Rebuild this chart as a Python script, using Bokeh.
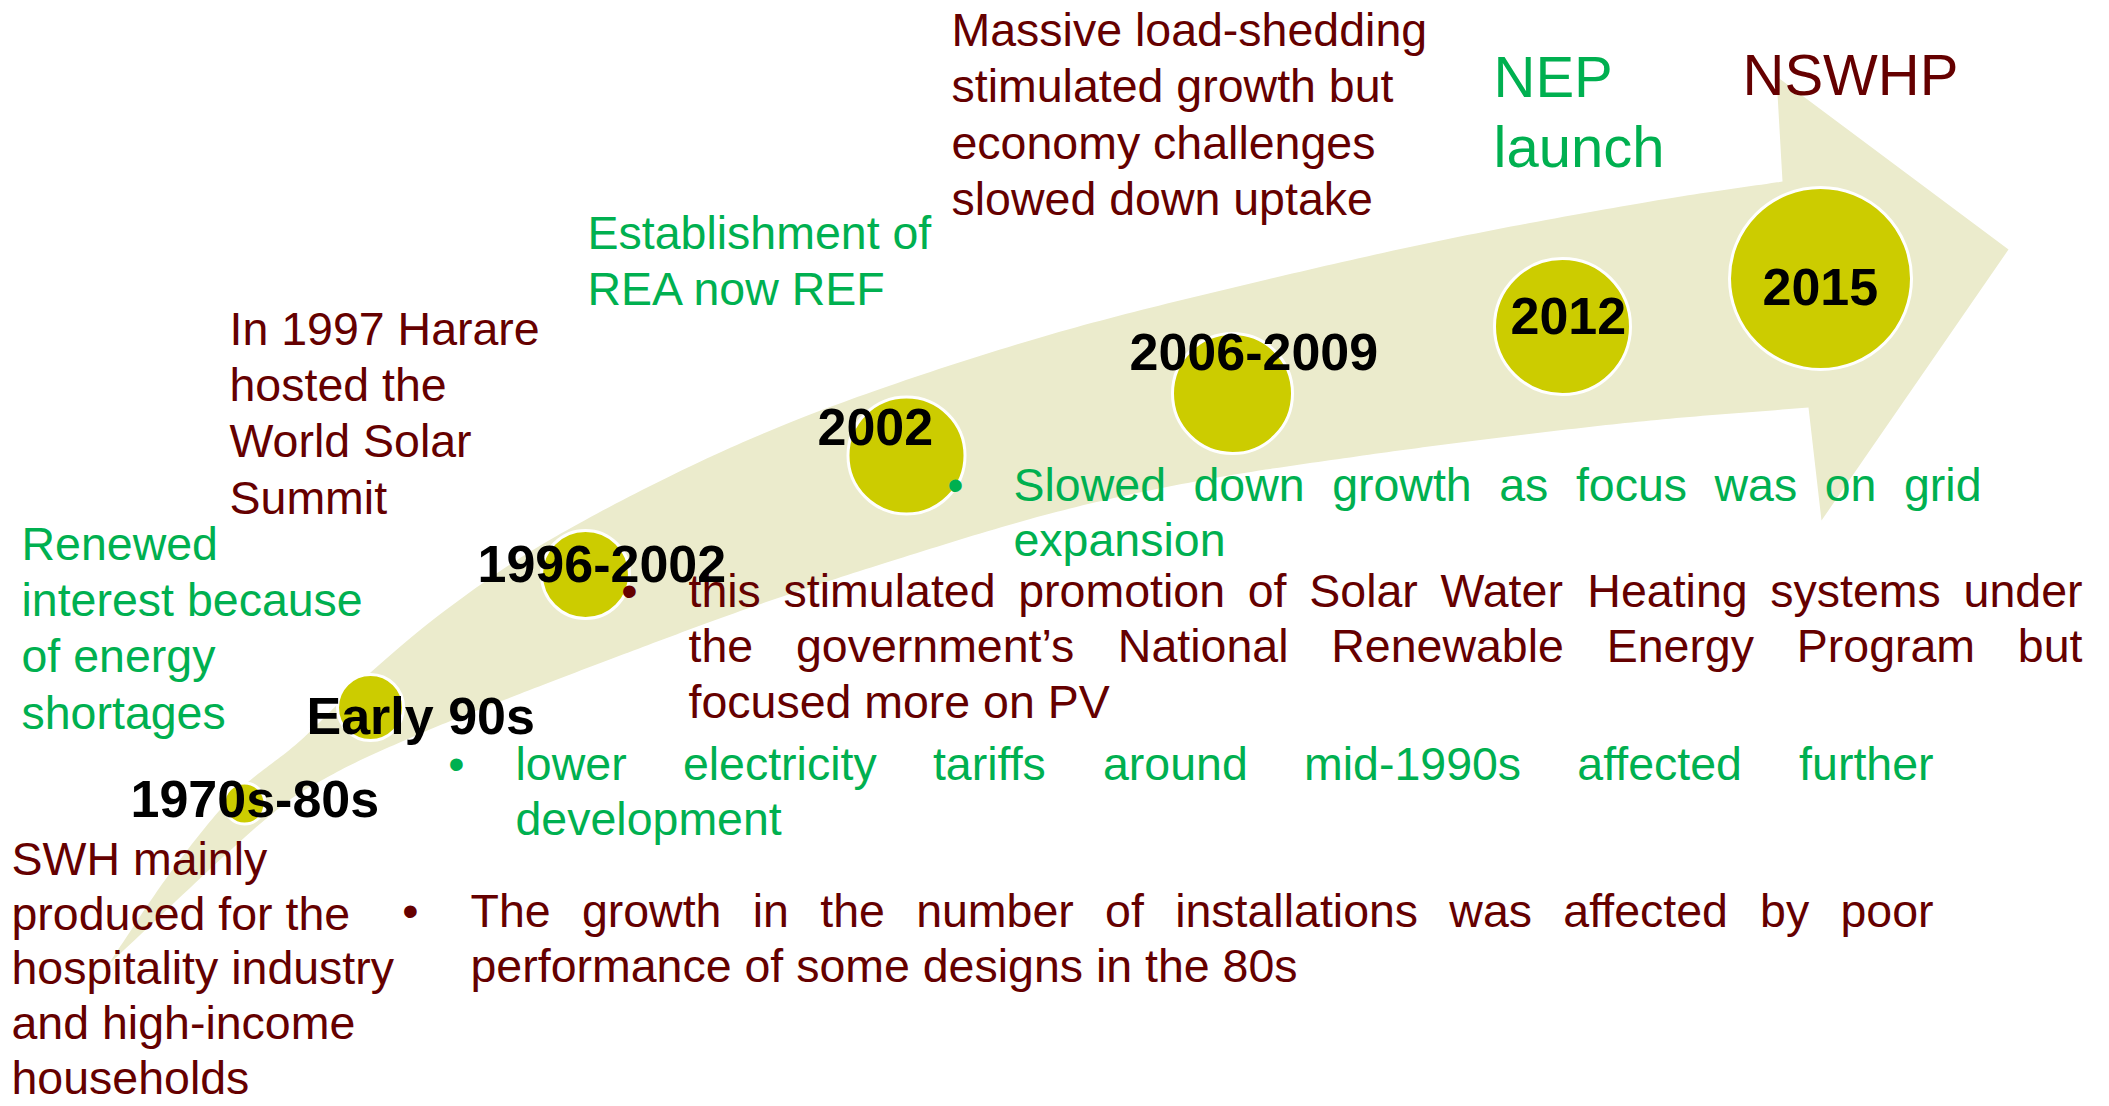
import numpy as np
from bokeh.plotting import figure
from bokeh.models import Range1d, ColumnDataSource
from bokeh.core.properties import value
from bokeh.embed import file_html
from bokeh.resources import INLINE

# ---------------- data ----------------
milestones = ["1970s-80s", "Early 90s", "1996-2002", "2002", "2006-2009", "2012", "2015"]
circle_x = [244, 370, 585, 906, 1232, 1562, 1820]
circle_y = [803, 707, 574, 455, 393, 326, 278]
circle_r = [20.5, 33, 44, 58.5, 60, 68, 91]
label_x = [130, 306, 477, 817, 1129, 1510, 1762]
label_y = [818, 735, 583, 446, 371, 335, 306]

# arrow outline (page pixel coordinates)
upper_edge = [(107, 965), (170, 872), (233, 795), (300, 740), (370, 672), (450, 606),
              (550, 539), (700, 461), (850, 399), (1050, 334), (1250, 283), (1450, 238),
              (1650, 201), (1782, 181)]
arrow_head = [(1776, 76), (2008, 249), (1821, 520)]
lower_edge = [(107, 965), (260, 823), (330, 775), (420, 733), (510, 697), (633, 650),
              (750, 607), (883, 563), (1050, 513), (1200, 480), (1356, 456), (1500, 437),
              (1650, 420), (1808, 407)]

RED = "#650000"
GREEN = "#00B050"

# free text blocks: lines, x, first baseline, line step, colour, size
text_blocks = [
    (["Massive load-shedding", "stimulated growth but", "economy challenges", "slowed down uptake"],
     951, 47, 56.5, RED, 46.5),
    (["NEP", "launch"], 1493, 98, 70, GREEN, 58),
    (["NSWHP"], 1742, 96, 70, RED, 58),
    (["Establishment of", "REA now REF"], 587, 250, 56, GREEN, 46.5),
    (["In 1997 Harare", "hosted the", "World Solar", "Summit"], 229, 346, 56.3, RED, 46.5),
    (["Renewed", "interest because", "of energy", "shortages"], 21, 561, 56.3, GREEN, 46.5),
    (["SWH mainly", "produced for the", "hospitality industry", "and high-income", "households"],
     11, 876, 54.8, RED, 46.5),
]

# bulleted, justified paragraphs: lines, bullet x, text x0, text x1, first baseline, step, colour
bullets = [
    (["Slowed down growth as focus was on grid", "expansion"], 955, 1013, 1981, 502, 55, GREEN),
    (["this stimulated promotion of Solar Water Heating systems under",
      "the government\u2019s National Renewable Energy Program but",
      "focused more on PV"], 629, 688, 2082, 608, 55.5, RED),
    (["lower electricity tariffs around mid-1990s affected further", "development"],
     456, 515, 1933, 781, 55, GREEN),
    (["The growth in the number of installations was affected by poor",
      "performance of some designs in the 80s"], 410, 470, 1933, 928, 55, RED),
]

# ---------------- helpers ----------------
ARIAL = {' ': 278, '-': 333, '\u2019': 222, "'": 191, '.': 278, ',': 278}
for d in "0123456789":
    ARIAL[d] = 556
ARIAL.update(dict(zip("ABCDEFGHIJKLMNOPQRSTUVWXYZ",
                      [667, 667, 722, 722, 667, 611, 778, 722, 278, 500, 667, 556, 833, 722,
                       778, 667, 778, 722, 667, 611, 722, 667, 944, 667, 667, 611])))
ARIAL.update(dict(zip("abcdefghijklmnopqrstuvwxyz",
                      [556, 556, 500, 556, 556, 278, 556, 556, 222, 222, 500, 222, 833, 556,
                       556, 556, 556, 333, 500, 278, 556, 500, 722, 500, 500, 500])))

SHIFT = 0.38  # baseline correction (fraction of font size)


def tw(s, size):
    return sum(ARIAL.get(c, 556) for c in s) * size / 1000.0


def catmull(pts, n=24):
    pts = np.array(pts, float)
    P = np.vstack([2 * pts[0] - pts[1], pts, 2 * pts[-1] - pts[-2]])
    out = []
    t = np.linspace(0, 1, n, endpoint=False)[:, None]
    for i in range(1, len(P) - 2):
        p0, p1, p2, p3 = P[i - 1], P[i], P[i + 1], P[i + 2]
        seg = 0.5 * ((2 * p1) + (-p0 + p2) * t + (2 * p0 - 5 * p1 + 4 * p2 - p3) * t ** 2
                     + (-p0 + 3 * p1 - 3 * p2 + p3) * t ** 3)
        out.append(seg)
    out.append(pts[-1:])
    return np.vstack(out)


# ---------------- figure ----------------
W, H = 2109, 1106
p = figure(width=W, height=H, x_range=Range1d(0, W), y_range=Range1d(H, 0),
           output_backend="svg", toolbar_location=None, min_border=0,
           x_axis_location=None, y_axis_location=None)
p.grid.visible = False
p.outline_line_color = None
p.background_fill_color = "white"
p.border_fill_color = "white"

# arrow band
up = catmull(upper_edge)
lo = catmull(lower_edge)
xs = list(up[:, 0]) + [q[0] for q in arrow_head] + list(lo[::-1, 0])
ys = list(up[:, 1]) + [q[1] for q in arrow_head] + list(lo[::-1, 1])
p.patch(xs, ys, fill_color="#EBEBCC", line_color=None)

# milestone circles
p.circle(x=circle_x, y=circle_y, radius=circle_r, fill_color="#CCCC00",
         line_color="white", line_width=3)

FONT = value("Liberation Sans")

# free text blocks
for lines, x, y0, dy, col, size in text_blocks:
    src = ColumnDataSource(dict(x=[x] * len(lines),
                                y=[y0 + i * dy - SHIFT * size for i in range(len(lines))],
                                t=lines))
    p.text(x="x", y="y", text="t", source=src, text_font=FONT,
           text_font_size=value(f"{size}px"), text_color=col,
           text_baseline="alphabetic", text_align="left")

# bulleted justified paragraphs
SZ = 46.5
for lines, bx, x0, x1, y0, dy, col in bullets:
    p.text(x=[bx], y=[y0 - SHIFT * SZ], text=["\u2022"], text_font=FONT,
           text_font_size=value(f"{SZ}px"),
           text_color=col, text_baseline="alphabetic", text_align="center")
    wx, wy, wt = [], [], []
    for i, line in enumerate(lines):
        y = y0 + i * dy - SHIFT * SZ
        words = line.split(" ")
        last = (i == len(lines) - 1)
        if last or len(words) == 1:
            gap = tw(" ", SZ)
        else:
            gap = (x1 - x0 - sum(tw(w, SZ) for w in words)) / (len(words) - 1)
        cx = x0
        for w in words:
            wx.append(cx)
            wy.append(y)
            wt.append(w)
            cx += tw(w, SZ) + gap
    src = ColumnDataSource(dict(x=wx, y=wy, t=wt))
    p.text(x="x", y="y", text="t", source=src, text_font=FONT,
           text_font_size=value(f"{SZ}px"), text_color=col,
           text_baseline="alphabetic", text_align="left")

# milestone labels
LS = 52
p.text(x=label_x, y=[v - SHIFT * LS for v in label_y], text=milestones, text_font=FONT,
       text_font_size=value(f"{LS}px"),
       text_font_style="bold", text_color="black", text_baseline="alphabetic",
       text_align="left")

open("out.html", "w").write(file_html(p, INLINE))
